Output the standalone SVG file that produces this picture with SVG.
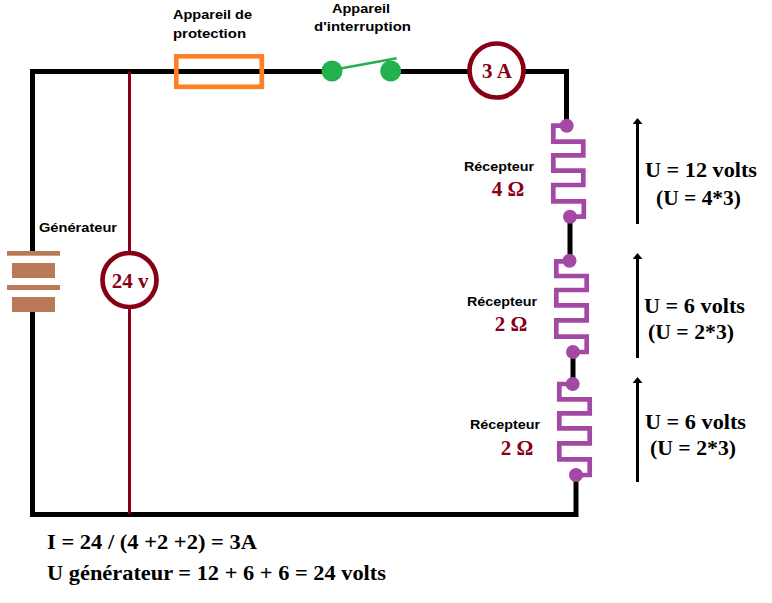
<svg xmlns="http://www.w3.org/2000/svg" width="772" height="603" viewBox="0 0 772 603">
<style>
.w{fill:none;stroke:#000;stroke-width:5}
.r{fill:none;stroke:#a349a4;stroke-width:4.7}
.d{fill:#a349a4}
.m{fill:#fff;stroke:#880015;stroke-width:4.7}
.b{fill:#b97a57}
.a{fill:none;stroke:#000;stroke-width:3}
.l{font-family:"Liberation Sans",Arial,sans-serif;font-weight:700;font-size:13.5px;fill:#000}
.c{font-family:"Liberation Serif",serif;font-weight:700;font-size:21px;fill:#000}
.v{font-family:"Liberation Serif",serif;font-weight:700;font-size:21px;fill:#880015;text-anchor:middle}
</style>
<defs><marker id="h" markerUnits="userSpaceOnUse" markerWidth="6" markerHeight="10" refX="0" refY="5" orient="auto" viewBox="0 0 6 10"><path d="M0 0L6 5L0 10Z" fill="#000"/></marker></defs>
<rect width="772" height="603" fill="#fff"/>
<g id="connectors">
<path class="w" d="M322 71.5H32.5V251M32.5 312V514.5H576V475"/>
<path class="w" d="M400 71.5H566.5V126"/>
<path class="w" d="M570 216V261"/>
<path class="w" d="M573 352V384"/>
<path d="M129.5 71.5V514" fill="none" stroke="#880015" stroke-width="3"/>
</g>
<g id="fuse"><rect x="176.3" y="56.3" width="85.5" height="30.5" fill="none" stroke="#ff7f27" stroke-width="4.7"/>
<text class="l" x="173" y="19" textLength="79" lengthAdjust="spacingAndGlyphs">Appareil de</text><text class="l" x="173" y="38" textLength="73" lengthAdjust="spacingAndGlyphs">protection</text></g>
<g id="switch"><circle cx="332" cy="71" r="10.5" fill="#22b14c"/><circle cx="390.7" cy="71" r="10.5" fill="#22b14c"/><path d="M341.7 68.3L396.7 58.3" stroke="#22b14c" stroke-width="2.5"/>
<text class="l" x="332" y="12.5" textLength="58" lengthAdjust="spacingAndGlyphs">Appareil</text><text class="l" x="314" y="31" textLength="97" lengthAdjust="spacingAndGlyphs">d'interruption</text></g>
<g id="ammeter"><circle class="m" cx="496.5" cy="70.5" r="27"/><text class="v" x="497" y="78">3 A</text></g>
<g id="voltmeter"><circle class="m" cx="129.5" cy="280" r="27"/><text class="v" x="130" y="288">24 v</text></g>
<g id="generator"><rect class="b" x="7" y="251" width="53" height="4.7"/><rect class="b" x="12" y="263" width="43" height="15"/><rect class="b" x="7" y="285" width="53" height="5"/><rect class="b" x="12" y="297" width="43" height="15"/>
<text class="l" x="39" y="232" textLength="78" lengthAdjust="spacingAndGlyphs">Générateur</text></g>
<g id="r1"><path class="r" d="M566.7 125.7H553.3V141.7H583.3V155.3H553.3V170.7H583.3V185H553.3V201.3H583.8V216.7H570"/><circle class="d" cx="566.7" cy="125.7" r="7"/><circle class="d" cx="570" cy="216.7" r="7"/>
<text class="l" x="464" y="171" textLength="70" lengthAdjust="spacingAndGlyphs">Récepteur</text><text class="v" x="508" y="195.500">4 Ω</text></g>
<g id="r2"><path class="r" d="M569.5 261.3H556.3V276H586.7V290H556.3V305.3H586.7V320.3H556.3V336.7H586.7V352H573"/><circle class="d" cx="569.5" cy="260.7" r="7"/><circle class="d" cx="573" cy="352" r="7"/>
<text class="l" x="467" y="306" textLength="70" lengthAdjust="spacingAndGlyphs">Récepteur</text><text class="v" x="511" y="331">2 Ω</text></g>
<g id="r3"><path class="r" d="M572.7 384H559.3V399.3H589.7V413.3H559.3V428.3H589.7V443.3H559.3V459.3H589.7V475H576"/><circle class="d" cx="572.7" cy="384" r="7"/><circle class="d" cx="576" cy="475" r="7"/>
<text class="l" x="470" y="429" textLength="70" lengthAdjust="spacingAndGlyphs">Récepteur</text><text class="v" x="517" y="454.500">2 Ω</text></g>
<g id="u1"><path class="a" d="M637.5 224V124" marker-end="url(#h)"/>
<text class="c" x="645" y="177" textLength="112" lengthAdjust="spacingAndGlyphs">U = 12 volts</text><text class="c" x="656" y="205" textLength="85" lengthAdjust="spacingAndGlyphs">(U = 4*3)</text></g>
<g id="u2"><path class="a" d="M637.5 358V259" marker-end="url(#h)"/>
<text class="c" x="644" y="313" textLength="101" lengthAdjust="spacingAndGlyphs">U = 6 volts</text><text class="c" x="648" y="339" textLength="86" lengthAdjust="spacingAndGlyphs">(U = 2*3)</text></g>
<g id="u3"><path class="a" d="M637.5 482V383" marker-end="url(#h)"/>
<text class="c" x="645" y="429" textLength="101" lengthAdjust="spacingAndGlyphs">U = 6 volts</text><text class="c" x="650" y="455" textLength="86" lengthAdjust="spacingAndGlyphs">(U = 2*3)</text></g>
<g id="notes"><text class="c" x="47" y="549" textLength="210" lengthAdjust="spacingAndGlyphs">I = 24 / (4 +2 +2) = 3A</text><text class="c" x="47" y="580" textLength="339" lengthAdjust="spacingAndGlyphs">U générateur = 12 + 6 + 6 = 24 volts</text></g>
</svg>
